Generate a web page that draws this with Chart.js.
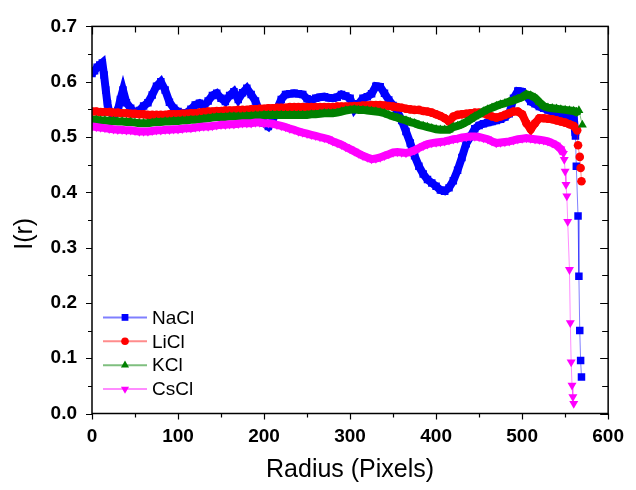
<!DOCTYPE html>
<html>
<head>
<meta charset="utf-8">
<script src="https://cdn.jsdelivr.net/npm/chart.js"></script>
<style>
  html, body { margin: 0; padding: 0; background: #fff; }
  canvas { display: block; }
</style>
</head>
<body>
<canvas id="chart" width="636" height="490"></canvas>
<script>
// radius grid shared by LiCl, KCl, CsCl (main band)
const radius = [
  0,5,10,15,20,25,30,35,40,45, 50,55,60,65,70,75,80,85,90,95,
  100,105,110,115,120,125,130,135,140,145, 150,155,160,165,170,175,180,185,190,195,
  200,205,210,215,220,225,230,235,240,245, 250,255,260,265,270,275,280,285,290,295,
  300,305,310,315,320,325,330,335,340,345, 350,355,360,365,370,375,380,385,390,395,
  400,405,410,415,420,425,430,435,440,445, 450,455,460,465,470,475,480,485,490,495,
  500,505,510,515,520,525,530,535,540,545, 550,555,560
];

const naclX = [
  0,3,6,9,12,14,16,18,20,25,30,33,36,40,45,50,55,60,65,70,75,80,85,90,95,
  100,105,110,115,120,125,130,135,140,145,150,155,160,165,170,175,180,185,190,195,
  200,205,210,215,220,225,230,235,240,245,250,255,260,265,270,275,280,285,290,295,
  300,305,310,315,320,325,330,335,340,345,350,355,360,365,370,375,380,385,390,395,
  400,405,410,415,420,425,430,435,440,445,450,455,460,465,470,475,480,485,490,495,
  500,505,510,515,520,525,530,535,540,545,550,555,560,562,563,565,566,567,568,569
];
const naclY = [
  0.615,0.620,0.626,0.630,0.634,0.612,0.585,0.560,0.545,0.540,0.548,0.568,0.585,0.562,0.552,0.543,0.548,0.556,0.562,0.576,0.592,0.600,0.585,0.563,0.552,
  0.546,0.543,0.544,0.550,0.558,0.561,0.556,0.565,0.575,0.579,0.570,0.564,0.575,0.582,0.568,0.580,0.588,0.577,0.565,0.545,
  0.525,0.519,0.530,0.550,0.568,0.577,0.578,0.579,0.578,0.577,0.569,0.566,0.570,0.572,0.573,0.571,0.570,0.572,0.577,0.574,
  0.570,0.550,0.560,0.570,0.573,0.578,0.592,0.591,0.579,0.567,0.557,0.546,0.530,0.510,0.489,0.466,0.447,0.433,0.423,0.417,
  0.411,0.404,0.402,0.408,0.421,0.440,0.463,0.488,0.501,0.515,0.521,0.524,0.526,0.528,0.530,0.532,0.536,0.542,0.570,0.583,
  0.582,0.574,0.564,0.560,0.555,0.552,0.549,0.546,0.544,0.542,0.540,0.538,0.535,0.502,0.447,0.357,0.248,0.150,0.096,0.066
];

const liclY = [
  0.546,0.546,0.545,0.545,0.545,0.544,0.544,0.543,0.543,0.542,
  0.542,0.541,0.541,0.540,0.540,0.540,0.540,0.540,0.541,0.541,
  0.541,0.542,0.542,0.543,0.543,0.544,0.545,0.546,0.546,0.547,
  0.547,0.548,0.548,0.548,0.549,0.549,0.549,0.550,0.550,0.551,
  0.551,0.552,0.552,0.553,0.553,0.553,0.554,0.554,0.554,0.554,
  0.554,0.554,0.554,0.554,0.554,0.554,0.554,0.555,0.555,0.555,
  0.555,0.556,0.556,0.557,0.557,0.558,0.558,0.558,0.557,0.556,
  0.555,0.554,0.553,0.551,0.550,0.549,0.549,0.547,0.546,0.544,
  0.541,0.538,0.534,0.528,0.537,0.540,0.541,0.542,0.543,0.544,
  0.544,0.543,0.540,0.537,0.535,0.537,0.540,0.543,0.546,0.546,
  0.541,0.525,0.514,0.525,0.534,0.534,0.533,0.532,0.530,0.528,
  0.526,0.523,0.520
];
const liclTailX = [564, 565, 567, 568, 569];
const liclTailY = [0.512, 0.485, 0.464, 0.444, 0.420];

const kclY = [
  0.531,0.531,0.530,0.530,0.529,0.529,0.528,0.528,0.527,0.527,
  0.526,0.525,0.525,0.525,0.526,0.527,0.527,0.528,0.528,0.529,
  0.529,0.530,0.530,0.531,0.531,0.532,0.533,0.534,0.535,0.536,
  0.536,0.536,0.537,0.537,0.537,0.537,0.538,0.538,0.539,0.539,
  0.540,0.540,0.540,0.540,0.540,0.540,0.540,0.540,0.540,0.540,
  0.540,0.541,0.541,0.542,0.543,0.543,0.543,0.544,0.546,0.548,
  0.549,0.550,0.549,0.549,0.548,0.547,0.546,0.545,0.543,0.540,
  0.537,0.535,0.532,0.530,0.527,0.525,0.522,0.520,0.518,0.516,
  0.514,0.513,0.513,0.513,0.518,0.520,0.523,0.527,0.532,0.537,
  0.541,0.546,0.550,0.553,0.556,0.559,0.561,0.564,0.566,0.569,
  0.572,0.577,0.575,0.571,0.563,0.556,0.553,0.552,0.551,0.550,
  0.549,0.548,0.547
];
const kclTailX = [563, 566, 570];
const kclTailY = [0.545, 0.548, 0.522];

const csclY = [
  0.519,0.518,0.517,0.516,0.515,0.514,0.513,0.513,0.512,0.512,
  0.511,0.510,0.510,0.510,0.511,0.512,0.512,0.513,0.513,0.514,
  0.514,0.515,0.516,0.516,0.517,0.518,0.519,0.519,0.520,0.521,
  0.522,0.522,0.523,0.523,0.524,0.525,0.525,0.525,0.526,0.526,
  0.525,0.525,0.524,0.522,0.520,0.518,0.515,0.513,0.510,0.508,
  0.506,0.504,0.502,0.500,0.498,0.496,0.492,0.489,0.486,0.482,
  0.478,0.474,0.470,0.466,0.463,0.460,0.461,0.463,0.466,0.469,
  0.472,0.473,0.472,0.471,0.473,0.476,0.480,0.484,0.487,0.489,
  0.490,0.491,0.492,0.494,0.496,0.497,0.499,0.500,0.501,0.501,
  0.500,0.498,0.496,0.492,0.489,0.490,0.491,0.492,0.494,0.496,
  0.497,0.498,0.497,0.496,0.495,0.494,0.492,0.489,0.485,0.478
];
const csclTailX = [548,549,550,551,552,553,555,556,557,558,559,560];
const csclTailY = [0.470,0.459,0.438,0.414,0.393,0.347,0.260,0.164,0.093,0.051,0.030,0.018];

const xTicks = [0, 100, 200, 300, 400, 500, 600];
const yTicks = [0.0, 0.1, 0.2, 0.3, 0.4, 0.5, 0.6, 0.7];

const FONT = '"Liberation Sans", Arial, sans-serif';

function pts(xs, ys) {
  return ys.map((y, i) => ({ x: xs[i], y: y }));
}
function band(ys, tailX, tailY) {
  return pts(radius.slice(0, ys.length).concat(tailX), ys.concat(tailY));
}

// frame + inner/outer ticks (major and minor) like Origin
const frame = {
  id: 'frame',
  afterDatasetsDraw(chart) {
    const { ctx, chartArea: a, scales: { x, y } } = chart;
    ctx.save();
    ctx.strokeStyle = '#000';
    ctx.lineWidth = 1.5;
    ctx.strokeRect(a.left, a.top, a.right - a.left, a.bottom - a.top);
    ctx.beginPath();
    const xs = [];
    xTicks.forEach((v, i) => {
      xs.push([v, 6]);
      if (i < xTicks.length - 1) xs.push([(v + xTicks[i + 1]) / 2, 4]);
    });
    xs.forEach(([v, len]) => {
      const p = Math.round(x.getPixelForValue(v)) + 0.5;
      ctx.moveTo(p, a.bottom); ctx.lineTo(p, a.bottom + len);
      ctx.moveTo(p, a.top); ctx.lineTo(p, a.top + len + 2);
    });
    const ys = [];
    yTicks.forEach((v, i) => {
      ys.push([v, 6]);
      if (i < yTicks.length - 1) ys.push([(v + yTicks[i + 1]) / 2, 4]);
    });
    ys.forEach(([v, len]) => {
      const p = Math.round(y.getPixelForValue(v)) + 0.5;
      ctx.moveTo(a.left, p); ctx.lineTo(a.left - len, p);
      ctx.moveTo(a.right, p); ctx.lineTo(a.right - len - 2, p);
    });
    ctx.lineWidth = 1.2;
    ctx.stroke();
    ctx.restore();
  }
};

// legend in the lower-left corner of the plot
const legendBox = {
  id: 'legendBox',
  afterDraw(chart) {
    const { ctx, chartArea: a } = chart;
    ctx.save();
    ctx.font = '19px ' + FONT;
    ctx.textBaseline = 'middle';
    chart.data.datasets.forEach((ds, i) => {
      const yy = a.top + 291 + i * 23.9;
      const x0 = a.left + 11;
      ctx.strokeStyle = ds.borderColor;
      ctx.lineWidth = 2;
      ctx.beginPath();
      ctx.moveTo(x0, yy); ctx.lineTo(x0 + 44, yy);
      ctx.stroke();
      ctx.fillStyle = ds.pointBackgroundColor;
      Chart.helpers.drawPoint(ctx, {
        pointStyle: ds.pointStyle, radius: ds.pointRadius - 0.5,
        rotation: ds.pointRotation || 0, borderWidth: 0
      }, x0 + 22, yy);
      ctx.fillStyle = '#000';
      ctx.fillText(ds.label, x0 + 49, yy + 1);
    });
    ctx.restore();
  }
};

// dense part of each curve is drawn as a thick band, the fall-off as a thin line
function series(label, data, bandEnd, color, line, style, r, rot, order) {
  return {
    label: label, data: data, showLine: true,
    borderColor: line, borderWidth: 1,
    backgroundColor: color,
    segment: {
      borderWidth: c => c.p1DataIndex < bandEnd ? 8 : 1,
      borderColor: c => c.p1DataIndex < bandEnd ? color : line
    },
    pointBackgroundColor: color, pointBorderColor: color, pointBorderWidth: 0,
    pointStyle: style, pointRadius: r, pointRotation: rot,
    pointHoverRadius: r, order: order
  };
}

new Chart(document.getElementById('chart'), {
  type: 'scatter',
  data: {
    datasets: [
      series('NaCl', pts(naclX, naclY), naclX.indexOf(562) + 1, '#0000ff', 'rgba(0,0,255,0.5)', 'rect', 5.3, 0, 3),
      series('LiCl', band(liclY, liclTailX, liclTailY), liclY.length + 1, '#ff0000', 'rgba(255,0,0,0.45)', 'circle', 4.3, 0, 2),
      series('KCl', band(kclY, kclTailX, kclTailY), kclY.length + 2, '#008000', 'rgba(0,128,0,0.5)', 'triangle', 5.2, 0, 1),
      series('CsCl', band(csclY, csclTailX, csclTailY), csclY.length + 1, '#ff00ff', 'rgba(255,0,255,0.45)', 'triangle', 5.2, 180, 0)
    ]
  },
  options: {
    responsive: false,
    animation: false,
    devicePixelRatio: 1,
    layout: { padding: { top: 25, right: 19.5, left: 0, bottom: 0 } },
    plugins: { legend: { display: false }, tooltip: { enabled: false } },
    scales: {
      x: {
        type: 'linear', min: 0, max: 600,
        afterBuildTicks: s => { s.ticks = xTicks.map(v => ({ value: v })); },
        afterFit: s => { s.height = 76.5; },
        grid: { drawOnChartArea: false, drawTicks: false },
        border: { display: false },
        ticks: { color: '#000', padding: 12, maxRotation: 0, font: { family: FONT, size: 19, weight: 'bold' } },
        title: { display: true, text: 'Radius (Pixels)', color: '#000', padding: { top: 0, bottom: 5 }, font: { family: FONT, size: 25 } }
      },
      y: {
        type: 'linear', min: 0, max: 0.7,
        afterBuildTicks: s => { s.ticks = yTicks.map(v => ({ value: v })); },
        afterFit: s => { s.width = 92; },
        grid: { drawOnChartArea: false, drawTicks: false },
        border: { display: false },
        ticks: { color: '#000', padding: 15, font: { family: FONT, size: 19, weight: 'bold' }, callback: v => v.toFixed(1) },
        title: { display: true, text: 'I(r)\u00a0\u00a0\u00a0\u00a0', color: '#000', padding: { top: 10, bottom: 0 }, font: { family: FONT, size: 25 } }
      }
    }
  },
  plugins: [frame, legendBox]
});
</script>
</body>
</html>
